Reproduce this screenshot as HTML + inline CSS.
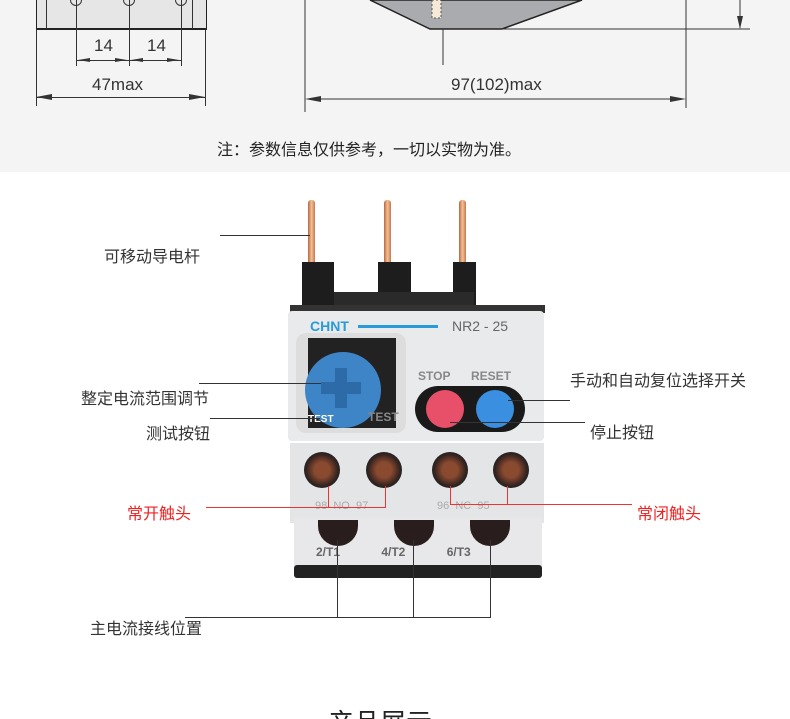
<!DOCTYPE html>
<html style="margin:0;width:790px;height:719px;overflow:hidden"><head><meta charset="utf-8"><style>
body{margin:0;width:790px;height:719px;max-height:719px;overflow:hidden;background:#fff;position:relative;font-family:"Liberation Sans","Noto Sans CJK SC",sans-serif;}
.a{position:absolute;}
.t{position:absolute;font-size:16px;color:#333;white-space:nowrap;line-height:20px;}
.h{position:absolute;height:1px;background:#333;}
.v{position:absolute;width:1px;background:#333;}
.r{background:#e33;}
.pin{position:absolute;width:7px;background:linear-gradient(90deg,#b8683a,#f3c09a,#c7784a);top:200px;height:64px;border-radius:3px 3px 0 0;}
.blk{position:absolute;background:#1d1d1d;}
.scr{position:absolute;width:36px;height:36px;border-radius:50%;background:radial-gradient(circle,#8a4a30 30%,#3a2520 60%,#222 70%);}
.bs{position:absolute;width:40px;height:26px;border-radius:0 0 20px 20px;background:#2a1d1d;top:520px;}
</style></head><body>
<div class="a" style="left:0;top:0;width:790px;height:172px;background:#f4f4f4"></div>
<div class="a" style="left:36px;top:0;width:169px;height:28px;background:#e6e6e6;border-bottom:2px solid #222;border-left:1px solid #222;border-right:1px solid #222"></div>
<div class="v" style="left:46px;top:0;height:29px"></div><div class="v" style="left:192px;top:0;height:29px"></div>
<div class="a" style="left:70px;top:-6px;width:10px;height:10px;border:1px solid #333;border-radius:50%"></div>
<div class="a" style="left:123px;top:-6px;width:10px;height:10px;border:1px solid #333;border-radius:50%"></div>
<div class="a" style="left:175px;top:-6px;width:10px;height:10px;border:1px solid #333;border-radius:50%"></div>
<div class="v" style="left:76px;top:0;height:66px"></div><div class="v" style="left:129px;top:0;height:66px"></div><div class="v" style="left:181px;top:0;height:66px"></div>
<div class="h" style="left:76px;top:60px;width:105px"></div>
<div class="t" style="left:94px;top:36px;font-size:17px">14</div><div class="t" style="left:147px;top:36px;font-size:17px">14</div>
<div class="v" style="left:36px;top:29px;height:77px"></div><div class="v" style="left:205px;top:29px;height:77px"></div>
<div class="h" style="left:36px;top:97px;width:169px"></div>
<div class="t" style="left:92px;top:75px;font-size:17px">47max</div>
<svg class="a" style="left:0;top:0" width="790" height="120">
<polygon points="370,0 582,0 502,29 430,29" fill="#a9abae" stroke="#222" stroke-width="1.5"/>
<rect x="432" y="0" width="9" height="18" fill="#f5ead8" stroke="#555" stroke-dasharray="2,2"/>
<line x1="502" y1="29" x2="750" y2="29" stroke="#333"/>
<line x1="443" y1="29" x2="443" y2="65" stroke="#333"/>
<line x1="305" y1="0" x2="305" y2="112" stroke="#333"/>
<line x1="686" y1="0" x2="686" y2="108" stroke="#333"/>
<line x1="309" y1="99" x2="682" y2="99" stroke="#333"/>
<polygon points="305,99 321,96 321,102" fill="#333"/><polygon points="686,99 670,96 670,102" fill="#333"/>
<polygon points="36,97 52,94 52,100" fill="#333"/><polygon points="205,97 189,94 189,100" fill="#333"/>
<polygon points="78,60 90,58 90,62" fill="#333"/><polygon points="127,60 115,58 115,62" fill="#333"/>
<polygon points="131,60 143,58 143,62" fill="#333"/><polygon points="179,60 167,58 167,62" fill="#333"/>
<line x1="740" y1="0" x2="740" y2="28" stroke="#333"/><polygon points="740,29 737,16 743,16" fill="#333"/>
</svg>
<div class="t" style="left:451px;top:75px;font-size:17px">97(102)max</div>
<div class="t" style="left:217px;top:141px;font-size:16px;color:#222">注：参数信息仅供参考，一切以实物为准。</div>
<div class="pin" style="left:308px"></div><div class="pin" style="left:384px"></div><div class="pin" style="left:459px"></div>
<div class="blk" style="left:302px;top:262px;width:32px;height:45px"></div>
<div class="blk" style="left:378px;top:262px;width:33px;height:45px"></div>
<div class="blk" style="left:453px;top:262px;width:23px;height:45px"></div>
<div class="blk" style="left:334px;top:292px;width:140px;height:15px;background:#2a2a2a"></div>
<div class="blk" style="left:290px;top:305px;width:255px;height:8px;background:#333"></div>
<div class="a" style="left:288px;top:311px;width:256px;height:130px;background:#e9eaec;border-radius:4px"></div>
<div class="a" style="left:310px;top:318px;font:bold 14px 'Liberation Sans';color:#2a9ad8">CHNT</div>
<div class="a" style="left:358px;top:325px;width:80px;height:3px;background:#2a9ad8"></div>
<div class="a" style="left:452px;top:318px;font:14px 'Liberation Sans';color:#666">NR2 - 25</div>
<div class="a" style="left:296px;top:333px;width:110px;height:100px;background:#ddd;border-radius:10px"></div>
<div class="a" style="left:308px;top:338px;width:88px;height:90px;background:#222"></div>
<div class="a" style="left:305px;top:352px;width:76px;height:76px;border-radius:50%;background:#3d85c6"></div>
<div class="a" style="left:335px;top:368px;width:12px;height:40px;background:#2d6aa8"></div>
<div class="a" style="left:321px;top:382px;width:40px;height:12px;background:#2d6aa8"></div>
<div class="a" style="left:308px;top:414px;font:bold 10px 'Liberation Sans';color:#fff">TEST</div>
<div class="a" style="left:368px;top:410px;font:bold 12px 'Liberation Sans';color:#888">TEST</div>
<div class="a" style="left:418px;top:369px;font:bold 12px 'Liberation Sans';color:#888">STOP</div>
<div class="a" style="left:471px;top:369px;font:bold 12px 'Liberation Sans';color:#888">RESET</div>
<div class="a" style="left:415px;top:386px;width:110px;height:46px;border-radius:23px;background:#1a1a1a"></div>
<div class="a" style="left:426px;top:390px;width:38px;height:38px;border-radius:50%;background:#e8506a"></div>
<div class="a" style="left:476px;top:390px;width:38px;height:38px;border-radius:50%;background:#3a8fe0"></div>
<div class="a" style="left:290px;top:443px;width:254px;height:80px;background:#e4e5e7"></div>
<div class="scr" style="left:304px;top:452px"></div><div class="scr" style="left:366px;top:452px"></div><div class="scr" style="left:432px;top:452px"></div><div class="scr" style="left:493px;top:452px"></div>
<div class="a" style="left:315px;top:500px;font-size:11px;color:#aaa">98 &nbsp;NO &nbsp;97</div>
<div class="a" style="left:437px;top:500px;font-size:11px;color:#aaa">96 &nbsp;NC &nbsp;95</div>
<div class="a" style="left:294px;top:518px;width:248px;height:48px;background:#e8e8ea"></div>
<div class="bs" style="left:318px"></div><div class="bs" style="left:394px"></div><div class="bs" style="left:470px"></div>
<div class="a" style="left:316px;top:545px;font:bold 12px 'Liberation Sans';color:#666;word-spacing:38px">2/T1 4/T2 6/T3</div>
<div class="blk" style="left:294px;top:565px;width:248px;height:13px;background:#222;border-radius:3px"></div>
<div class="t" style="left:104px;top:248px">可移动导电杆</div>
<div class="h" style="left:220px;top:235px;width:90px"></div>
<div class="t" style="left:81px;top:390px">整定电流范围调节</div>
<div class="h" style="left:199px;top:383px;width:122px"></div>
<div class="t" style="left:146px;top:425px">测试按钮</div>
<div class="h" style="left:210px;top:418px;width:110px"></div>
<div class="t" style="left:570px;top:372px">手动和自动复位选择开关</div>
<div class="h" style="left:508px;top:400px;width:62px"></div>
<div class="t" style="left:590px;top:424px">停止按钮</div>
<div class="h" style="left:450px;top:422px;width:135px"></div>
<div class="t" style="left:127px;top:505px;color:#e22">常开触头</div>
<div class="h r" style="left:206px;top:507px;width:180px"></div>
<div class="v r" style="left:328px;top:486px;height:21px"></div><div class="v r" style="left:385px;top:486px;height:21px"></div>
<div class="t" style="left:637px;top:505px;color:#e22">常闭触头</div>
<div class="h r" style="left:450px;top:504px;width:182px"></div>
<div class="v r" style="left:450px;top:486px;height:18px"></div><div class="v r" style="left:507px;top:486px;height:18px"></div>
<div class="t" style="left:90px;top:620px">主电流接线位置</div>
<div class="h" style="left:185px;top:617px;width:306px"></div>
<div class="v" style="left:337px;top:540px;height:77px"></div><div class="v" style="left:413px;top:540px;height:77px"></div><div class="v" style="left:490px;top:540px;height:77px"></div>
<div class="a" style="left:328px;top:708px;font-size:26px;color:#222;line-height:30px">产品展示</div>
</body></html>
